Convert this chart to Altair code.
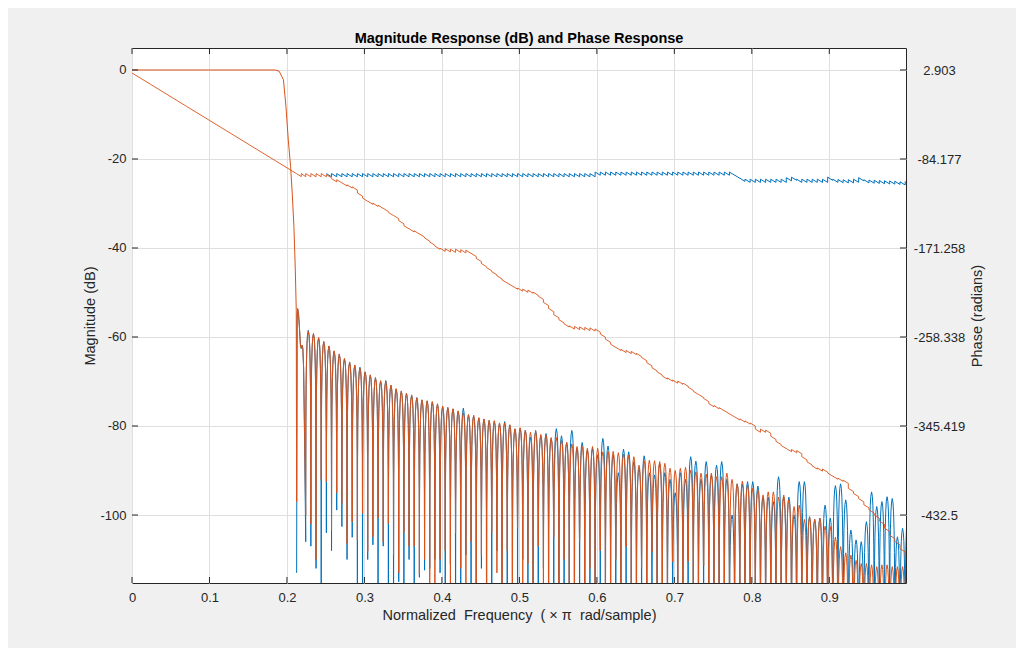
import altair as alt
import pandas as pd

BLUE = "#0072BD"
ORANGE = "#D95319"
INK = "#262626"
GRID = "#dfdfdf"
FONT = "Liberation Sans"

# ---------------- axes ----------------
X_TICKS = [0.0, 0.1, 0.2, 0.3, 0.4, 0.5, 0.6, 0.7, 0.8, 0.9]
MAG_TICKS = [0, -20, -40, -60, -80, -100]
PHASE_TICKS = [2.903, -84.177, -171.258, -258.338, -345.419, -432.5]
X_DOMAIN = [0.0, 0.999]
MAG_DOMAIN = [-115.28, 4.94]
PHASE_DOMAIN = [-499.03, 24.43]

# ---------------- passband + transition band (both filters coincide; blue hidden under orange) ----------------
TRANS_F = [0.0, 0.05, 0.10, 0.15, 0.185, 0.190, 0.1955, 0.1987, 0.2017, 0.2047, 0.2068, 0.2090, 0.2108, 0.2120]
TRANS_DB = [0.0, 0.0, 0.0, 0.0, 0.0, -0.3, -2.2, -8.2, -15.7, -21.7, -27.7, -35.2, -45.0, -54.0]

# first, irregular sidelobe just after the edge
FIRST_F = [0.2125, 0.2131, 0.2138, 0.2148, 0.2160, 0.2175, 0.2185, 0.2195, 0.2205, 0.2215, 0.2228]
ORANGE_FIRST_DB = [-97.0, -56.0, -53.6, -54.5, -57.5, -62.0, -62.5, -61.8, -62.5, -67.0, -82.0]
BLUE_FIRST_DB = [-113.0, -56.0, -53.7, -54.6, -57.6, -62.1, -62.6, -61.9, -62.6, -67.0, -84.0]

# regular stopband lobes: first null and lobe width
NULL0 = 0.2242
LOBE_W = 0.00667
# shape of one lobe (position inside the lobe, dB below its peak)
LOBE_U = [0.03, 0.08, 0.15, 0.25, 0.35, 0.5, 0.65, 0.75, 0.85, 0.92, 0.97]
LOBE_REL_DB = [-20.5, -12.1, -6.9, -3.0, -1.0, 0.0, -1.0, -3.0, -6.9, -12.1, -20.5]

# peak level of every stopband lobe (dB)
ORANGE_PEAK_DB = [
    -58.7, -59.2, -60.1, -61.0, -62.0, -63.1, -63.8, -64.8, -65.6, -66.3,
    -67.0, -67.8, -68.5, -69.1, -69.8, -70.0, -70.8, -71.6, -72.1, -72.6,
    -73.0, -73.7, -74.1, -74.3, -74.5, -75.0, -75.5, -75.8, -76.1, -76.6,
    -77.0, -77.4, -77.6, -78.1, -78.4, -78.7, -78.8, -79.3, -79.3, -79.7,
    -80.6, -80.4, -80.9, -81.4, -81.2, -81.9, -82.0, -82.6, -82.6, -83.2,
    -83.7, -84.0, -84.6, -84.6, -85.0, -84.6, -85.0, -85.8, -85.7, -85.7,
    -86.0, -86.3, -86.6, -86.9, -88.8, -87.8, -87.7, -87.8, -88.0, -88.4,
    -89.5, -90.0, -89.5, -89.3, -89.9, -90.3, -90.6, -90.8, -90.6, -91.4,
    -91.4, -90.6, -92.0, -93.0, -92.4, -93.3, -94.0, -94.4, -95.5, -94.8,
    -94.8, -96.0, -95.5, -96.6, -98.1, -97.8, -101.0, -100.4, -101.0, -100.7,
    -102.5, -102.6, -105.0, -107.1, -108.5, -109.0, -110.2, -110.9, -110.9, -111.2,
    -111.6, -111.2, -111.2, -111.6, -111.6, -111.6, -111.6,
]
BLUE_PEAK_DB = [
    -58.5, -59.3, -60.2, -61.1, -62.1, -63.2, -63.9, -64.9, -65.7, -66.4,
    -66.8, -67.9, -68.6, -69.2, -69.9, -69.8, -70.9, -71.7, -72.2, -72.7,
    -73.1, -73.6, -74.2, -74.4, -74.6, -75.1, -75.6, -75.9, -76.2, -76.7,
    -76.0, -77.5, -77.7, -78.2, -78.5, -78.8, -78.9, -79.4, -79.0, -79.8,
    -80.7, -80.5, -81.0, -82.5, -81.0, -82.2, -81.7, -82.8, -80.6, -82.2,
    -83.7, -81.0, -85.0, -83.7, -85.5, -85.0, -86.5, -82.8, -84.5, -86.5,
    -90.5, -85.2, -85.8, -88.0, -89.5, -86.7, -90.5, -91.0, -88.5, -90.5,
    -92.0, -95.0, -90.5, -92.0, -86.9, -87.9, -92.0, -88.0, -91.0, -88.8,
    -88.0, -92.0, -100.0, -93.0, -93.0, -92.5, -92.5, -93.5, -96.0, -96.0,
    -97.0, -91.4, -96.0, -96.0, -100.0, -92.5, -92.5, -100.4, -101.0, -100.7,
    -97.8, -100.7, -93.4, -93.0, -96.6, -103.4, -105.6, -106.0, -101.5, -94.8,
    -98.1, -97.0, -95.9, -96.3, -104.9, -103.0, -100.0,
]
# depth of every null (dB); values below the axis are clipped
ORANGE_NULL_DB = [
    -100, -102, -110, -92, -92.5, -103.4, -95, -97.4, -106.4, -101.5,
    -105.6, -99.6, -108.2, -104.9, -100.7, -106, -101.9, -109, -113, -104,
    -107, -107, -113.3, -110, -140, -140, -110, -108, -140, -104,
    -112, -140, -106, -140, -109, -140, -104, -113, -140, -108,
    -140, -103, -140, -111, -140, -107, -140, -140, -105, -140,
    -110, -140, -140, -106, -140, -112, -140, -108, -140, -140,
    -110, -140, -106, -140, -140, -112, -140, -108, -140, -140,
    -140, -110, -140, -140, -106, -140, -140, -111, -140, -140,
] + [-140] * 38
BLUE_NULL_DB = [
    -106, -107, -112, -140, -104, -108, -98.9, -102.6, -110, -105,
    -140, -140, -110, -106.7, -140, -107, -140, -140, -115, -140,
    -110, -140, -114, -112.4, -112, -110, -113, -140, -111, -140,
    -140, -109, -140, -140, -112, -140, -140, -108, -140, -140,
    -140, -140, -110, -140, -140, -140, -112, -140, -140, -140,
] + [-140] * 68

# ---------------- phase (radians, right axis) ----------------
PASS_PHASE_F = [0.0, 0.2125]
PASS_PHASE = [0.0, -98.6]
FIRST_PHASE_F = [0.2125, 0.2185, 0.2185, 0.2242]
FIRST_PHASE = [-98.6, -101.4, -98.5, -101.5]
SAW_HALF = 1.57  # half of the pi jump seen at each null
ORANGE_PHASE_LEVEL = [
    -100, -100, -100, -100, -101, -105, -106, -109, -111, -113,
    -119, -124, -127, -129, -131, -134, -138, -141, -146, -151,
    -154, -156, -159, -163, -167, -171, -173, -173.5, -174, -174,
    -174.5, -175, -178, -183, -188, -192, -196, -200, -204, -207,
    -210, -212, -213, -214, -216, -220, -226, -232, -238, -243,
    -247, -249, -249.5, -250, -250.5, -251, -252, -257, -262, -267,
    -270, -272, -273, -274, -276, -280, -285, -290, -294, -298,
    -300, -302, -303, -305, -309, -313, -316, -320, -325, -327,
    -329, -332, -335, -338, -340, -342, -344, -350, -350, -351,
    -357, -362, -366, -369, -370, -371, -377, -382, -386, -388,
    -389, -393, -396, -398, -400, -408, -413, -418, -424, -429,
    -434, -440, -447, -454, -460, -467, -474,
]
# blue phase leaves the orange one at lobe 4 (below it, it is hidden under orange)
BLUE_PHASE_START = 4
BLUE_PHASE_LEVEL = (
    [-100.0] * 52 + [-98.5] * 27 + [-101.5, -104.5] + [-105.5] * 8 + [-104.0, -103.5]
    + [-105.5] * 6 + [-103.5] + [-105.5, -105.8, -106.0, -106.0, -105.5] + [-104.0]
    + [-106.0, -106.3, -106.5, -106.8, -107.0, -107.2, -107.5, -108.0, -108.0]
)

X_TITLE = "Normalized\u00a0 Frequency\u00a0 (\u00a0\u00d7\u00a0\u03c0\u00a0 rad/sample)"


def mag_frame(first_db, peaks, nulls, with_passband):
    f = (list(TRANS_F) if with_passband else []) + list(FIRST_F)
    d = (list(TRANS_DB) if with_passband else []) + list(first_db)
    for k, p in enumerate(peaks):
        f0 = NULL0 + k * LOBE_W
        f.append(f0)
        d.append(nulls[k])
        for u, rel in zip(LOBE_U, LOBE_REL_DB):
            f.append(f0 + u * LOBE_W)
            d.append(p + rel)
    f.append(NULL0 + len(peaks) * LOBE_W)
    d.append(nulls[len(peaks)])
    return pd.DataFrame({"f": f, "db": d, "i": list(range(len(f)))})


def phase_frame(levels, start_k, with_passband):
    f = list(PASS_PHASE_F) + list(FIRST_PHASE_F) if with_passband else []
    p = list(PASS_PHASE) + list(FIRST_PHASE) if with_passband else []
    for j, lv in enumerate(levels):
        f0 = NULL0 + (start_k + j) * LOBE_W
        f += [f0, f0 + LOBE_W]
        p += [lv + SAW_HALF, lv - SAW_HALF]
    return pd.DataFrame({"f": f, "ph": p, "i": list(range(len(f)))})


minus_fix = "replace(datum.label, '\u2212', '-')"

x_axis = alt.Axis(
    values=X_TICKS, format=".1~f", labelExpr=minus_fix, grid=True, gridColor=GRID,
    ticks=False, domain=False, labelFont=FONT, labelFontSize=13, labelColor=INK,
    labelPadding=8, labelFlush=False, labelOverlap=False,
    title=X_TITLE, titleFont=FONT, titleFontSize=14.5, titleFontWeight="normal",
    titleColor=INK, titleX=387, titleY=36.5, titleAlign="center", titleBaseline="alphabetic",
)
mag_axis = alt.Axis(
    values=MAG_TICKS, format="d", labelExpr=minus_fix, grid=True, gridColor=GRID,
    ticks=False, domain=False, labelFont=FONT, labelFontSize=13, labelColor=INK,
    labelPadding=6, labelOverlap=False, orient="left",
    title="Magnitude (dB)", titleFont=FONT, titleFontSize=14.5, titleFontWeight="normal",
    titleColor=INK, titleAngle=270, titleX=-38, titleY=267.5, titleAlign="center",
    titleBaseline="alphabetic",
)
ph_axis = alt.Axis(
    values=PHASE_TICKS, format=".3~f", labelExpr=minus_fix, grid=False,
    ticks=False, domain=False, labelFont=FONT, labelFontSize=13, labelColor=INK,
    labelPadding=33, labelAlign="center", labelOverlap=False, orient="right",
    title="Phase (radians)", titleFont=FONT, titleFontSize=14.5, titleFontWeight="normal",
    titleColor=INK, titleAngle=270, titleX=75, titleY=267.5, titleAlign="center",
    titleBaseline="alphabetic",
)

xs = alt.Scale(domain=X_DOMAIN, nice=False, zero=False)
x_enc = alt.X("f:Q", scale=xs, axis=x_axis)
y_mag = alt.Y("db:Q", scale=alt.Scale(domain=MAG_DOMAIN, nice=False, zero=False), axis=mag_axis)
y_ph = alt.Y("ph:Q", scale=alt.Scale(domain=PHASE_DOMAIN, nice=False, zero=False), axis=ph_axis)
order = alt.Order("i:Q")

W, H, TL = 774, 535, 6

blue_mag = alt.Chart(mag_frame(BLUE_FIRST_DB, BLUE_PEAK_DB, BLUE_NULL_DB, False)).mark_line(
    clip=True, color=BLUE, strokeWidth=1).encode(x=x_enc, y=y_mag, order=order)
orange_mag = alt.Chart(mag_frame(ORANGE_FIRST_DB, ORANGE_PEAK_DB, ORANGE_NULL_DB, True)).mark_line(
    clip=True, color=ORANGE, strokeWidth=1).encode(x=x_enc, y=y_mag, order=order)

xt = pd.DataFrame({"f": X_TICKS})
yt = pd.DataFrame({"db": MAG_TICKS})
tick_bottom = alt.Chart(xt).mark_rule(color=INK, strokeWidth=1).encode(
    x=x_enc, y=alt.value(H), y2=alt.value(H - TL))
tick_top = alt.Chart(xt).mark_rule(color=INK, strokeWidth=1).encode(
    x=x_enc, y=alt.value(0), y2=alt.value(TL))
tick_left = alt.Chart(yt).mark_rule(color=INK, strokeWidth=1).encode(
    y=y_mag, x=alt.value(0), x2=alt.value(TL))
tick_right = alt.Chart(yt).mark_rule(color=INK, strokeWidth=1).encode(
    y=y_mag, x=alt.value(W), x2=alt.value(W - TL))

mag_group = alt.layer(blue_mag, orange_mag, tick_bottom, tick_top, tick_left, tick_right)

blue_ph = alt.Chart(phase_frame(BLUE_PHASE_LEVEL, BLUE_PHASE_START, False)).mark_line(
    clip=True, color=BLUE, strokeWidth=1).encode(x=x_enc, y=y_ph, order=order)
orange_ph = alt.Chart(phase_frame(ORANGE_PHASE_LEVEL, 0, True)).mark_line(
    clip=True, color=ORANGE, strokeWidth=0.9).encode(x=x_enc, y=y_ph, order=order)
ph_group = alt.layer(blue_ph, orange_ph)

chart = (
    alt.layer(mag_group, ph_group)
    .resolve_scale(y="independent")
    .properties(
        width=W, height=H,
        autosize=alt.AutoSizeParams(type="none"),
        padding={"left": 124, "top": 40, "right": 110, "bottom": 65},
        title=alt.TitleParams(
            text="Magnitude Response (dB) and Phase Response", font=FONT, fontSize=14.5,
            fontWeight="bold", color="#000000", anchor="middle", offset=1,
        ),
    )
    .configure(background="#f0f0f0")
    .configure_view(fill="white", stroke=INK, strokeWidth=1)
)

chart.save("out.html", embed_options={"renderer": "svg", "actions": False})
